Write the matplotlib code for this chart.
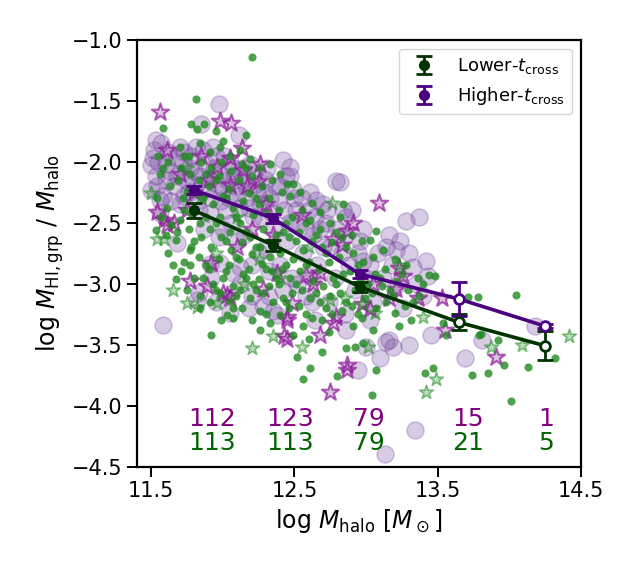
import matplotlib
matplotlib.use("Agg")
import matplotlib.pyplot as plt
import numpy as np

# ---------------- data ----------------
# binned means (log Mhalo, log MHI/Mhalo) with errors
low_x = [11.80, 12.35, 12.955, 13.646, 14.247]
low_y = [-2.40, -2.683, -3.025, -3.316, -3.508]
low_err = [0.06, 0.045, 0.04, 0.065, 0.12]
high_x = [11.80, 12.35, 12.955, 13.646, 14.247]
high_y = [-2.232, -2.464, -2.920, -3.125, -3.347]
high_err = [0.035, 0.035, 0.035, 0.14, 0.02]
low_counts = ["113", "113", "79", "21", "5"]
high_counts = ["112", "123", "79", "15", "1"]

# lower-tcross groups: small green dots
gd_x = [12.20, 11.81, 11.58, 11.78, 11.82, 11.87, 11.95, 12.00, 12.16,
        14.05, 13.78, 13.71, 13.79, 13.92, 13.74, 13.85, 14.13, 14.01, 13.41,
        13.47, 13.04, 13.07, 12.80, 12.61, 12.56, 12.86, 12.92, 13.31, 13.20,
        13.56, 13.54, 12.52, 12.69, 13.96, 14.32, 13.80,
        11.92, 12.26, 11.84, 12.03, 12.07, 12.40,
        11.53, 11.67, 11.73, 11.67, 11.77, 11.78, 12.07,
        13.07, 13.03, 13.44, 13.48, 12.62, 12.68, 12.84, 12.49, 12.45, 13.23, 12.98,
        11.55, 11.56, 11.54, 11.57, 11.62, 11.63, 11.61, 11.64, 11.62,
        11.70, 11.71, 11.69, 11.72, 11.70, 11.68, 11.71,
        11.76, 11.77, 11.75, 11.78, 11.76, 11.77, 11.75,
        11.84, 11.85, 11.83, 11.86, 11.84, 11.85, 11.83, 11.86, 11.84,
        11.91, 11.92, 11.90, 11.93, 11.91, 11.92, 11.90, 11.93, 11.91,
        11.98, 11.99, 11.97, 12.00, 11.98, 11.99, 11.97, 12.00, 11.98, 11.99,
        12.05, 12.06, 12.04, 12.07, 12.05, 12.06, 12.04, 12.07, 12.05,
        12.12, 12.13, 12.11, 12.14, 12.12, 12.13, 12.11, 12.14, 12.12, 12.13,
        12.19, 12.20, 12.18, 12.21, 12.19, 12.20, 12.18, 12.21, 12.19, 12.20,
        12.26, 12.27, 12.25, 12.28, 12.26, 12.27, 12.25, 12.28, 12.26,
        12.33, 12.34, 12.32, 12.35, 12.33, 12.34, 12.32, 12.35, 12.33,
        12.40, 12.41, 12.39, 12.42, 12.40, 12.41, 12.39, 12.42,
        12.47, 12.48, 12.46, 12.49, 12.47, 12.48, 12.46, 12.49,
        12.54, 12.55, 12.53, 12.56, 12.54, 12.55, 12.53, 12.56,
        12.61, 12.62, 12.60, 12.63, 12.61, 12.62, 12.60,
        12.68, 12.69, 12.67, 12.70, 12.68, 12.69,
        12.75, 12.76, 12.74, 12.77, 12.75, 12.76, 12.74,
        12.82, 12.83, 12.81, 12.84, 12.82, 12.83,
        12.90, 12.91, 12.89, 12.92, 12.90, 12.91,
        12.97, 12.98, 12.96, 12.99, 12.97,
        13.05, 13.06, 13.04, 13.07, 13.05,
        13.12, 13.13, 13.11, 13.14,
        13.20, 13.21, 13.19,
        13.28, 13.29, 13.27,
        13.36, 13.37,
        11.58, 11.60, 11.65, 11.73, 11.73, 11.80, 11.80, 11.88, 11.88, 11.88,
        11.95, 11.95, 11.95, 12.02, 12.02, 12.02, 12.09, 12.09, 12.09, 12.16,
        12.16, 12.16, 12.23, 12.23, 12.23, 12.30, 12.30, 12.30, 12.37, 12.37,
        12.44, 12.44, 12.44, 12.51, 12.51, 12.58, 12.58, 12.58, 12.65, 12.65,
        12.72, 12.72, 12.79, 12.79, 12.86, 12.86, 12.94, 12.94, 13.01, 13.10,
        13.17, 13.25, 13.33, 13.40]
gd_y = [-1.14, -1.49, -1.72, -1.69, -1.73, -1.69, -1.75, -1.83, -1.78,
        -3.09, -3.11, -3.11, -3.42, -3.46, -3.75, -3.73, -3.68, -3.96, -3.73,
        -3.69, -3.91, -3.71, -3.76, -3.69, -3.78, -3.53, -3.52, -3.30, -3.24,
        -3.42, -3.32, -3.60, -3.56, -3.67, -3.61, -3.41,
        -3.42, -3.38, -3.20, -3.26, -3.28, -3.26,
        -2.56, -2.64, -2.82, -2.96, -2.72, -2.70, -3.20,
        -2.57, -2.64, -2.93, -2.94, -2.34, -2.41, -2.35, -2.18, -2.18, -3.35, -3.49,
        -1.95, -2.10, -2.30, -2.45, -2.00, -2.20, -2.38, -2.52, -2.75,
        -1.88, -2.05, -2.15, -2.30, -2.48, -2.58, -2.90,
        -1.95, -2.10, -2.25, -2.42, -2.55, -2.85, -3.05,
        -1.85, -2.00, -2.15, -2.30, -2.50, -2.62, -2.78, -2.95, -3.10,
        -1.92, -2.05, -2.20, -2.35, -2.55, -2.70, -2.88, -3.00, -3.15,
        -1.88, -2.00, -2.12, -2.28, -2.45, -2.62, -2.80, -2.95, -3.08, -3.30,
        -1.95, -2.08, -2.22, -2.38, -2.58, -2.72, -2.85, -3.02, -3.14,
        -1.90, -2.02, -2.15, -2.32, -2.50, -2.66, -2.80, -2.92, -3.05, -3.20,
        -1.98, -2.12, -2.26, -2.44, -2.62, -2.76, -2.88, -3.00, -3.12, -3.30,
        -2.05, -2.20, -2.35, -2.55, -2.70, -2.84, -2.96, -3.08, -3.22,
        -2.02, -2.15, -2.30, -2.48, -2.78, -2.90, -3.02, -3.15, -3.32,
        -2.10, -2.25, -2.40, -2.58, -2.75, -2.88, -3.00, -3.12,
        -2.28, -2.45, -2.62, -2.80, -2.95, -3.08, -3.20, -3.42,
        -2.25, -2.40, -2.58, -2.72, -2.90, -3.05, -3.18, -3.35,
        -2.48, -2.65, -2.82, -2.98, -3.12, -3.28, -3.45,
        -2.55, -2.70, -2.88, -3.02, -3.15, -3.30,
        -2.50, -2.66, -2.82, -2.95, -3.10, -3.25, -3.40,
        -2.45, -2.62, -2.78, -2.92, -3.08, -3.22,
        -2.60, -2.75, -2.90, -3.05, -3.18, -3.35,
        -2.65, -2.82, -2.98, -3.12, -3.28,
        -2.78, -2.92, -3.08, -3.20, -3.38,
        -2.72, -2.88, -3.02, -3.15,
        -2.80, -2.98, -3.10,
        -2.85, -3.05, -3.18,
        -2.95, -3.10,
        -2.05, -2.60, -2.85, -1.95, -2.40, -2.65, -2.95, -2.10, -2.45, -2.85,
        -2.15, -2.50, -3.05, -2.30, -2.65, -2.90, -2.45, -2.78, -3.10, -2.05,
        -2.58, -2.95, -2.30, -2.70, -3.05, -2.42, -2.88, -3.25, -2.60, -2.95,
        -2.50, -2.85, -3.15, -2.65, -3.00, -2.50, -2.85, -3.25, -2.60, -3.08,
        -2.75, -3.20, -2.58, -3.00, -2.70, -3.15, -2.85, -3.25, -3.00, -2.95,
        -3.05, -2.92, -3.15, -3.00]

# lower-tcross groups: green stars
gs_x = [11.65, 11.75, 11.82, 12.20, 12.35, 11.96, 11.50, 11.54, 11.59, 13.49,
        13.42, 12.55, 13.01, 13.87, 14.09, 14.42, 13.40, 13.06, 12.75, 12.85,
        12.76, 13.23, 12.98, 11.75, 11.85, 12.10, 12.25, 12.40, 11.95, 12.15, 12.60]
gs_y = [-3.05, -3.16, -3.19, -3.53, -3.43, -3.16, -2.26, -2.63, -2.63, -3.78,
        -3.89, -3.52, -3.52, -3.52, -3.50, -3.43, -3.27, -3.24, -3.13, -3.12,
        -2.34, -2.85, -3.17, -2.05, -2.30, -2.45, -2.80, -2.95, -2.75, -3.00, -2.70]

# higher-tcross groups: large purple circles
pc_x = [11.97, 11.85, 12.11, 11.53, 11.50, 12.82, 13.28, 13.37, 13.16, 13.42,
        13.45, 13.30, 13.19, 13.14, 13.10, 12.94, 13.00, 13.69, 13.81, 13.34,
        13.13, 14.18, 11.58, 12.05, 12.38, 12.79, 11.68,
        13.14, 13.21, 13.33, 13.43, 12.98, 12.84, 12.90, 12.65, 12.70, 12.47,
        12.42, 12.47, 12.86, 12.64, 13.03, 13.16,
        11.50, 11.56, 11.91, 11.98, 12.12, 12.07, 11.83, 11.82, 12.35,
        11.52, 11.55, 11.53, 11.58, 11.56, 11.62, 11.63, 11.66, 11.70, 11.72,
        11.74, 11.70, 11.78, 11.80, 11.76, 11.83, 11.86, 11.88, 11.90, 11.92,
        11.87, 11.95, 11.98, 12.00, 12.02, 11.97, 12.05, 12.08, 12.10, 12.06,
        12.14, 12.16, 12.18, 12.15, 12.22, 12.24, 12.27, 12.25, 12.30, 12.33,
        12.36, 12.32, 12.40, 12.43, 12.45, 12.42, 12.50, 12.53, 12.56, 12.52,
        12.60, 12.63, 12.66, 12.72, 12.75, 12.78, 12.74, 12.85, 12.88, 12.92,
        12.96, 13.00, 13.05, 13.08, 13.22, 13.26, 12.12, 12.20, 11.92, 12.28,
        11.51, 11.54, 11.57, 11.60, 11.60, 11.64, 11.67, 11.68, 11.73, 11.73,
        11.77, 11.79, 11.81, 11.82, 11.84, 11.89, 11.91, 11.93, 11.94, 11.96,
        11.99, 12.01, 12.03, 12.04, 12.07, 12.09, 12.11, 12.13, 12.17, 12.19,
        12.21, 12.23, 12.26, 12.29, 12.31, 12.34, 12.37, 12.39, 12.44, 12.46,
        12.49, 12.51, 12.55, 12.58, 12.61, 12.64, 12.68, 12.70, 12.73, 12.80,
        12.83, 12.86, 12.94, 12.98, 13.03, 13.12, 13.18, 13.24, 13.30, 13.35,
        13.40, 12.00, 12.10, 12.20, 12.30, 12.40, 12.48, 12.58, 12.62, 12.18,
        12.32, 11.95, 12.62, 12.85]
pc_y = [-1.53, -1.69, -1.78, -1.82, -2.03, -2.17, -2.49, -2.45, -2.60, -2.81,
        -3.42, -3.50, -3.52, -3.48, -3.61, -3.71, -3.52, -3.61, -3.46, -4.20,
        -4.40, -3.35, -3.34, -3.24, -3.26, -2.16, -2.67,
        -2.70, -2.72, -2.86, -2.94, -2.81, -2.40, -2.40, -2.31, -2.35, -2.04,
        -1.99, -2.12, -3.38, -3.30, -3.30, -3.46,
        -2.23, -2.31, -2.84, -2.83, -2.86, -2.91, -3.08, -3.13, -3.22,
        -1.90, -2.00, -2.12, -2.28, -2.42, -1.92, -2.08, -2.20, -1.88, -2.00,
        -2.15, -2.35, -1.95, -2.08, -2.25, -2.40, -1.90, -2.02, -2.14, -2.30,
        -2.55, -1.95, -2.10, -2.22, -2.40, -2.62, -2.00, -2.12, -2.28, -2.50,
        -2.05, -2.20, -2.38, -2.60, -2.10, -2.25, -2.45, -2.75, -2.15, -2.30,
        -2.55, -2.90, -2.20, -2.40, -2.65, -3.05, -2.30, -2.50, -2.75, -3.00,
        -2.40, -2.60, -2.85, -2.50, -2.70, -2.95, -3.15, -2.60, -2.85, -3.05,
        -2.65, -2.95, -3.15, -2.75, -3.00, -3.20, -3.00, -3.10, -2.95, -3.18,
        -1.97, -2.20, -1.85, -2.02, -2.15, -2.32, -1.97, -2.12, -1.92, -2.28,
        -2.05, -2.18, -1.88, -2.32, -2.12, -2.22, -2.42, -1.88, -2.05, -2.18,
        -2.32, -1.95, -2.15, -2.30, -2.05, -2.20, -2.38, -2.15, -2.30, -2.02,
        -2.45, -2.18, -2.35, -2.25, -2.05, -2.42, -2.20, -2.32, -2.12, -2.50,
        -2.22, -2.40, -2.30, -2.55, -2.25, -2.45, -2.55, -2.70, -2.40, -2.55,
        -2.75, -2.45, -2.75, -2.55, -2.85, -2.95, -2.85, -2.65, -2.75, -3.00,
        -3.10, -2.55, -2.65, -2.85, -2.70, -2.85, -2.95, -3.10, -2.95, -3.20,
        -3.10, -3.15, -3.15, -3.25]

# higher-tcross groups: purple stars
ps_x = [11.56, 11.98, 12.06, 12.13, 11.61, 12.26, 12.14, 12.05, 11.85, 11.96,
        13.09, 12.91, 12.87, 12.77, 12.83, 12.55, 13.23, 13.21, 13.26, 13.05,
        12.58, 12.68, 12.63, 12.87, 12.75, 13.91, 13.55, 12.45, 12.48, 12.68,
        12.79, 12.77, 12.43, 12.97, 13.03, 13.16, 13.36, 13.53,
        11.59, 11.66, 11.54, 11.92, 11.77, 11.89, 12.03, 12.28, 12.38, 12.45,
        12.25, 12.17, 12.05, 12.05, 12.00, 12.45, 12.87,
        11.70, 11.80, 11.90, 12.30, 12.20, 12.35, 11.75, 12.10, 11.61]
ps_y = [-1.59, -1.67, -1.68, -1.89, -1.90, -2.02, -2.07, -1.97, -1.95, -2.04,
        -2.34, -2.50, -2.57, -2.63, -2.68, -2.44, -2.87, -3.04, -2.94, -3.00,
        -2.93, -2.91, -3.00, -3.71, -3.89, -3.60, -3.38, -3.27, -3.16, -3.42,
        -3.27, -3.32, -3.43, -3.17, -3.21, -3.12, -3.12, -3.12,
        -2.48, -2.50, -2.41, -2.83, -2.98, -3.02, -3.09, -3.04, -2.91, -3.30,
        -2.16, -2.20, -2.19, -3.12, -3.08, -3.45, -3.67,
        -2.10, -2.25, -2.15, -2.35, -2.55, -2.60, -2.40, -2.70, -2.52]

# ---------------- plot ----------------
c_low = "#003300"
c_high = "#4b0082"

fig = plt.figure(figsize=(6.37, 5.84), dpi=100)
ax = fig.add_axes([0.215, 0.2009, 0.697, 0.7311])

ax.scatter(pc_x, pc_y, s=150, facecolor="#6a3d9a", edgecolor="#6a3d9a",
           alpha=0.26, linewidth=1.2, zorder=1)
ax.scatter(ps_x, ps_y, s=170, marker="*", facecolor=(0.55, 0.2, 0.6, 0.3),
           edgecolor=(0.55, 0.1, 0.6, 0.7), linewidth=1.5, zorder=2)
ax.scatter(gd_x, gd_y, s=34, color="forestgreen", alpha=0.8,
           linewidth=0, zorder=3)
ax.scatter(gs_x, gs_y, s=110, marker="*", facecolor=(0.13, 0.55, 0.13, 0.3),
           edgecolor=(0.13, 0.55, 0.13, 0.55), linewidth=1.2, zorder=3)

ax.plot(low_x, low_y, "-", color=c_low, lw=2.6, zorder=5)
ax.plot(high_x, high_y, "-", color=c_high, lw=2.6, zorder=5)
ax.errorbar(low_x, low_y, yerr=low_err, fmt="o", color=c_low, elinewidth=2,
            capsize=6, capthick=2, ms=7, label=r"Lower-$t_{\rm cross}$", zorder=6)
ax.errorbar(high_x, high_y, yerr=high_err, fmt="o", color=c_high, elinewidth=2,
            capsize=6, capthick=2, ms=7, label=r"Higher-$t_{\rm cross}$", zorder=6)
ax.plot(low_x[3:], low_y[3:], "o", mfc="white", mec=c_low, mew=2, ms=7, zorder=7)
ax.plot(high_x[3:], high_y[3:], "o", mfc="white", mec=c_high, mew=2, ms=7, zorder=7)

for xi, t in zip(high_x, high_counts):
    ax.text(xi - 0.045, -4.164, t, color="#800080", fontsize=18,
            ha="left", va="baseline")
for xi, t in zip(low_x, low_counts):
    ax.text(xi - 0.045, -4.363, t, color="#006400", fontsize=18,
            ha="left", va="baseline")

ax.set_xlim(11.4, 14.5)
ax.set_ylim(-4.5, -1.0)
ax.set_xticks([11.5, 12.5, 13.5, 14.5])
ax.set_yticks(np.arange(-4.5, -0.99, 0.5))
ax.tick_params(direction="out", length=7, width=1.4, labelsize=15)
for sp in ax.spines.values():
    sp.set_linewidth(1.6)

ax.set_xlabel(r"log $M_{\rm halo}$ [$M_\odot$]", fontsize=17)
ax.set_ylabel(r"log $M_{\rm HI,grp}$ / $M_{\rm halo}$", fontsize=17)

ax.legend(loc="upper right", fontsize=13)

fig.savefig("out.png", dpi=100)
